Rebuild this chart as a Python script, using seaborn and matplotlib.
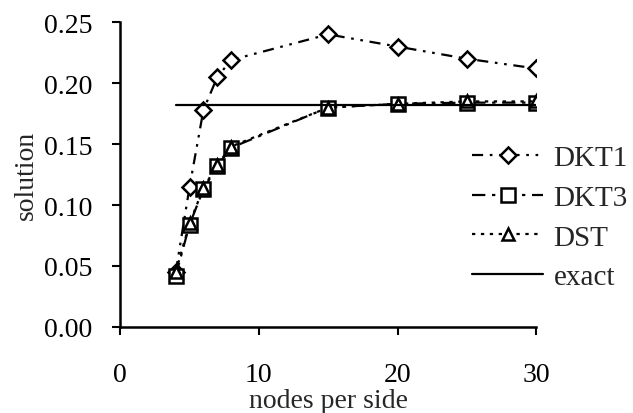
import matplotlib
matplotlib.use("Agg")
import matplotlib.pyplot as plt
import seaborn as sns

nodes = [4, 5, 6, 7, 8, 15, 20, 25, 30]
dkt1 = [0.045, 0.115, 0.178, 0.205, 0.219, 0.240, 0.230, 0.220, 0.212]
dkt3 = [0.042, 0.084, 0.113, 0.132, 0.147, 0.180, 0.183, 0.184, 0.184]
dst = [0.045, 0.085, 0.114, 0.133, 0.148, 0.180, 0.183, 0.185, 0.185]
exact_x = [4, 30]
exact_y = [0.182, 0.182]

sns.set_theme(style="ticks")
plt.rcParams['font.family'] = ['Liberation Serif', 'DejaVu Serif']
FS = 20
LFS = 21

fig = plt.figure(figsize=(6.33, 4.14), dpi=100)
ax = fig.add_axes([0.19, 0.208, 0.657, 0.736])

common = dict(color='black', lw=1.6, markersize=10, markerfacecolor='white',
              markeredgecolor='black', markeredgewidth=1.8)

sns.lineplot(x=nodes, y=dkt1, ax=ax, marker='D', label='DKT1',
             linestyle=(0, (5, 3, 1.2, 3, 1.2, 3)), **{**common, 'markersize': 8.5})
sns.lineplot(x=nodes, y=dkt3, ax=ax, marker='s', label='DKT3',
             linestyle=(0, (6, 3, 1.5, 3)), **common)
sns.lineplot(x=nodes, y=dst, ax=ax, marker='^', label='DST',
             linestyle=(0, (1.5, 2.5)), **{**common, 'markersize': 8})
sns.lineplot(x=exact_x, y=exact_y, ax=ax, label='exact', color='black', lw=1.6)

ax.set_xlim(0, 30)
ax.set_ylim(0, 0.25)
ax.set_xticks([0, 10, 20, 30])
ax.set_yticks([0, 0.05, 0.10, 0.15, 0.20, 0.25])
ax.set_yticklabels(['0.00', '0.05', '0.10', '0.15', '0.20', '0.25'])
ax.tick_params(axis='both', direction='out', length=6, width=1.5, labelsize=FS, colors='black')
ax.tick_params(axis='x', pad=19)
ax.tick_params(axis='y', pad=14)
for s in ['top', 'right']:
    ax.spines[s].set_visible(False)
for s in ['left', 'bottom']:
    ax.spines[s].set_linewidth(1.8)
    ax.spines[s].set_color('black')

ax.set_xlabel('nodes per side', fontsize=FS, labelpad=1)
ax.set_ylabel('solution', fontsize=FS, labelpad=4)

leg = ax.legend(loc='upper left', bbox_to_anchor=(472/633, 1 - 146/414),
                bbox_transform=fig.transFigure, frameon=False, fontsize=LFS,
                handlelength=2.45, handletextpad=0.35, labelspacing=0.45,
                borderaxespad=0, borderpad=0)

fig.savefig('out.png', dpi=100)
